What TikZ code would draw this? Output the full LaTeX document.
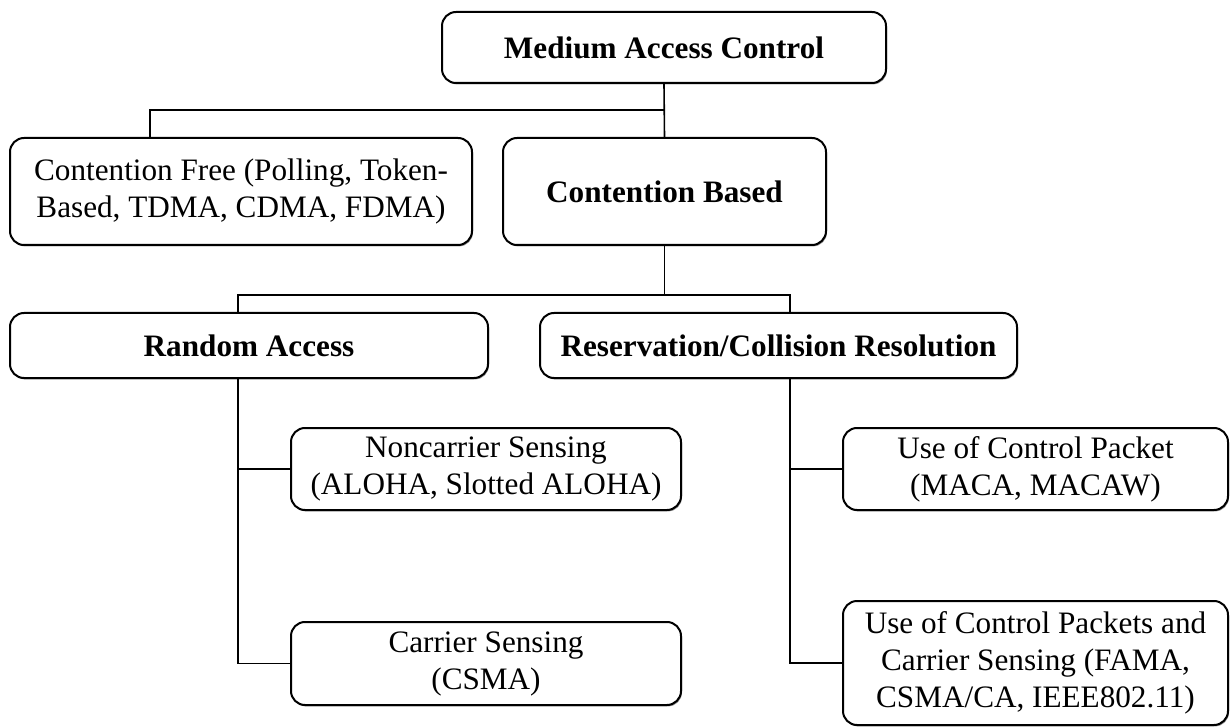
\documentclass[tikz,border=0pt]{standalone}
\usepackage{fontspec}
\setmainfont{Liberation Serif}
\usetikzlibrary{shadows}
\begin{document}
\begin{tikzpicture}[x=0.5pt,y=-0.5pt,
  box/.style={draw, line width=1pt, rounded corners=7pt, inner sep=0pt, align=center,
    font=\fontsize{15.6}{18.5}\selectfont,
    drop shadow={shadow xshift=0.5pt, shadow yshift=-0.7pt, fill=black!70, opacity=0.6},
    fill=white},
  link/.style={line width=0.8pt}]
\useasboundingbox (0,0) rectangle (1232,727);
\node[box, minimum width=222pt, minimum height=35.5pt] (mac) at (664,47.5) {\textbf{Medium Access Control}};
\node[box, minimum width=231pt, minimum height=53.5pt] (cf) at (241,191.5) {Contention Free (Polling, Token-\\Based, TDMA, CDMA, FDMA)};
\node[box, minimum width=161.5pt, minimum height=53.5pt] (cb) at (664.5,191.5) {\textbf{Contention Based}};
\node[box, minimum width=239pt, minimum height=32.5pt] (ra) at (249,345.5) {\textbf{Random Access}};
\node[box, minimum width=238.5pt, minimum height=32.5pt] (rs) at (778.5,345.5) {\textbf{Reservation/Collision Resolution}};
\node[box, minimum width=195pt, minimum height=41pt] (nc) at (486,469) {Noncarrier Sensing\\(ALOHA, Slotted ALOHA)};
\node[box, minimum width=195pt, minimum height=41.5pt] (cs) at (486,663.5) {Carrier Sensing\\(CSMA)};
\node[box, minimum width=192.5pt, minimum height=41pt] (ucp) at (1035.5,469) {Use of Control Packet\\(MACA, MACAW)};
\node[box, minimum width=192.5pt, minimum height=62pt] (ucps) at (1035.5,663) {Use of Control Packets and\\Carrier Sensing (FAMA,\\CSMA/CA, IEEE802.11)};
\coordinate (cfj) at (150,110);
\coordinate (raj) at (238,295);
\coordinate (rsj) at (790,295);
\draw[link] (mac.south) -- (cb.north);
\draw[link] (mac.south |- cfj) -- (cfj) -- (cf.north -| cfj);
\draw[link] (cb.south) -- (cb.south |- raj);
\draw[link] (ra.north -| raj) -- (raj) -- (rsj) -- (rs.north -| rsj);
\draw[link] (ra.south -| raj) |- (cs.west);
\draw[link] (nc.west) -- (nc.west -| raj);
\draw[link] (rs.south -| rsj) |- (ucps.west);
\draw[link] (ucp.west) -- (ucp.west -| rsj);
\end{tikzpicture}
\end{document}
